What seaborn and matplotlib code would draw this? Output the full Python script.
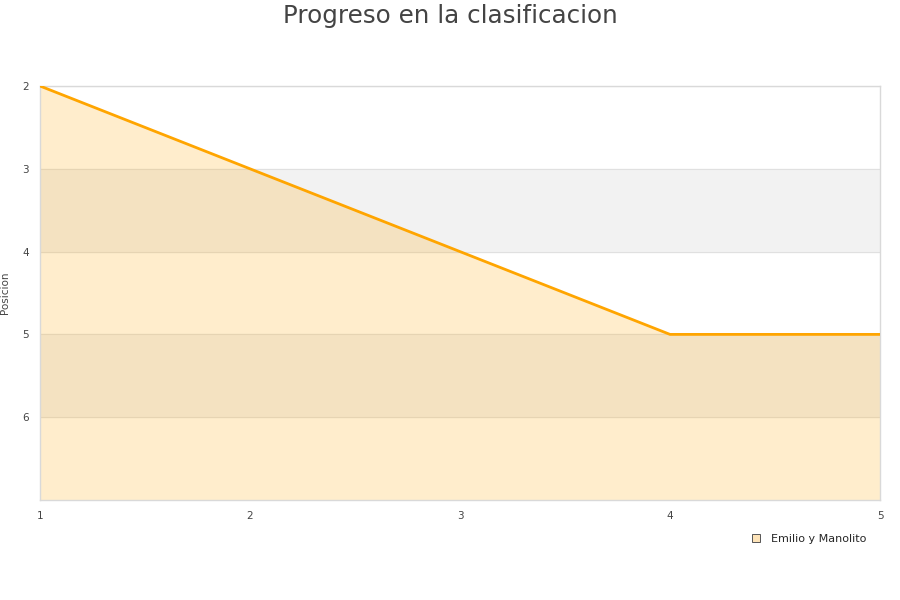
import matplotlib
matplotlib.use("Agg")
import matplotlib.pyplot as plt
import seaborn as sns
import pandas as pd
from matplotlib.lines import Line2D

jornadas = [1, 2, 3, 4, 5]
posicion = [2, 3, 4, 5, 5]
serie = "Emilio y Manolito"

df = pd.DataFrame({"jornada": jornadas, "posicion": posicion})

sns.set_style("white")
plt.rcParams["font.family"] = ["DejaVu Sans"]

fig = plt.figure(figsize=(9, 6), dpi=100)
ax = fig.add_axes([40 / 900, 100 / 600, 840 / 900, 414 / 600])

# bandas alternas
for lo in [3, 5]:
    ax.axhspan(lo, lo + 1, color="#f2f2f2", zorder=0)

ax.fill_between(df["jornada"], df["posicion"], 7, color="#ffa500", alpha=0.2, lw=0, zorder=1)
sns.lineplot(data=df, x="jornada", y="posicion", color="#ffa500", lw=2, ax=ax, zorder=3)

ax.set_xlim(1, 5)
ax.set_ylim(7, 2)
ax.set_xticks(jornadas)
ax.set_yticks([2, 3, 4, 5, 6])
ax.grid(axis="y", color="#e0e0e0", lw=0.8, zorder=0)
ax.tick_params(axis="both", labelsize=7.5, colors="#444444", length=0, pad=8)
for s in ax.spines.values():
    s.set_color("#d9d9d9")
    s.set_linewidth(1)
ax.set_xlabel("")
ax.set_ylabel("Posicion", fontsize=7.5, color="#444444")
ax.yaxis.set_label_coords(-30 / 840, 0.5)

fig.text(0.5, 1 - 16 / 600, "Progreso en la clasificacion", ha="center", va="center",
         fontsize=17.7, color="#444444")

handle = Line2D([], [], marker="s", ls="", markersize=6, markerfacecolor="#fde3b8",
                markeredgecolor="#555555", markeredgewidth=0.7)
fig.legend([handle], [serie], loc="center left", bbox_to_anchor=(745 / 900, 1 - 539 / 600),
           frameon=False, fontsize=8, handletextpad=0.3, borderpad=0, borderaxespad=0)

fig.savefig("out.png", dpi=100)
